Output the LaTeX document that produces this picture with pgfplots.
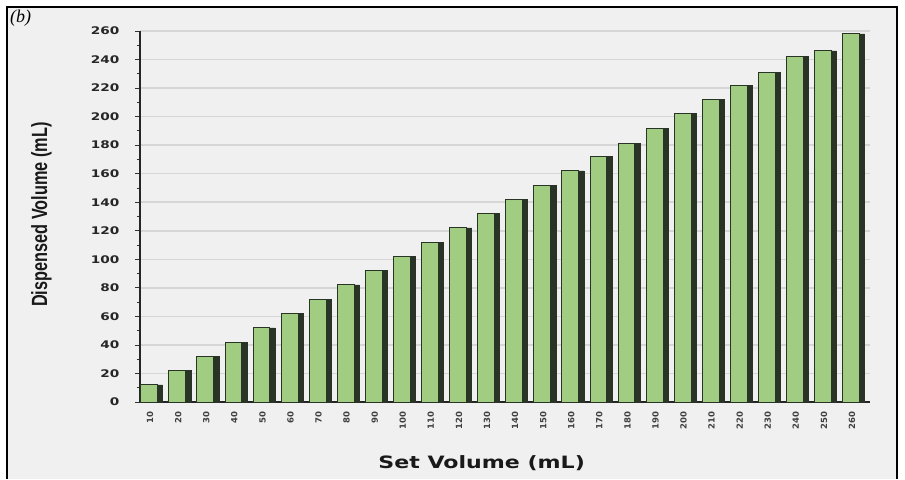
\documentclass[border=0pt]{standalone}
\usepackage{pgfplots}
\pgfplotsset{compat=1.18}
\usepackage{fontspec}
\setmainfont{Liberation Sans}
\newfontfamily\dejavu{DejaVu Sans}
\newfontfamily\libserif{Liberation Serif}
\definecolor{barfill}{RGB}{160,205,130}
\definecolor{baredge}{RGB}{42,52,38}
\definecolor{gridc}{RGB}{214,214,214}
\definecolor{bgc}{RGB}{240,240,240}
\begin{document}
\begin{tikzpicture}[x=1pt,y=1pt]
\fill[white] (0,0) rectangle (905,479);
\fill[bgc] (7,0) rectangle (897,472);
\draw[black, line width=1.2pt] (7,0) -- (7,472) -- (897,472) -- (897,0);
\node[anchor=north west, inner sep=0pt] at (10,469) {\libserif\itshape\fontsize{18}{20}\selectfont (b)};
\begin{axis}[
  at={(140pt,77pt)}, anchor=south west,
  scale only axis, width=730pt, height=371pt,
  xmin=-0.36, xmax=25.64, ymin=0, ymax=260,
  axis x line*=bottom, axis y line*=left,
  axis line style={-, black!85, line width=1.2pt},
  xtick={0,...,25},
  xticklabels={10,20,30,40,50,60,70,80,90,100,110,120,130,140,150,160,170,180,190,200,210,220,230,240,250,260},
  x tick label style={rotate=90, anchor=east, font=\dejavu\bfseries\fontsize{8.5}{9}\selectfont, text=black!75, xshift=-1pt},
  xtick style={draw=none},
  ytick={0,20,...,260},
  yticklabel={\scalebox{1.3}[1]{\pgfmathprintnumber{\tick}}},
  minor y tick num=1,
  y tick label style={font=\dejavu\bfseries\fontsize{10.5}{12}\selectfont, text=black!85, xshift=-12pt},
  ytick style={black!80, line width=0.8pt},
  tick align=outside,
  major tick length=5pt, minor tick length=3pt,
  ymajorgrids,
  major grid style={gridc, line width=1.6pt},
  /pgf/number format/assume math mode=true,
  ylabel={\scalebox{0.74}[1]{\bfseries Dispensed Volume (mL)}},
  ylabel style={at={(axis description cs:-0.135,0.505)}, anchor=center, rotate=0, font=\fontsize{22}{24}\selectfont, text=black!90},
  xlabel={\scalebox{1.3}[1]{Set Volume (mL)}},
  xlabel style={at={(axis description cs:0.468,-0.165)}, anchor=center, font=\dejavu\bfseries\fontsize{17}{20}\selectfont, text=black!90},
  clip=false,
]
\addplot[ybar, bar width=0.7, bar shift=0.1, fill=baredge, draw=baredge, line width=0.6pt] coordinates {
(0,12) (1,22) (2,32) (3,42) (4,52) (5,62) (6,72) (7,82) (8,92) (9,102) (10,112) (11,122) (12,132) (13,142) (14,152) (15,162) (16,172) (17,181) (18,192) (19,202) (20,212) (21,222) (22,231) (23,242) (24,246) (25,258)};
\addplot[ybar, bar width=0.6, bar shift=-0.03, fill=barfill, draw=baredge, line width=1pt] coordinates {
(0,12) (1,22) (2,32) (3,42) (4,52) (5,62) (6,72) (7,82) (8,92) (9,102) (10,112) (11,122) (12,132) (13,142) (14,152) (15,162) (16,172) (17,181) (18,192) (19,202) (20,212) (21,222) (22,231) (23,242) (24,246) (25,258)};
\end{axis}
\end{tikzpicture}
\end{document}
